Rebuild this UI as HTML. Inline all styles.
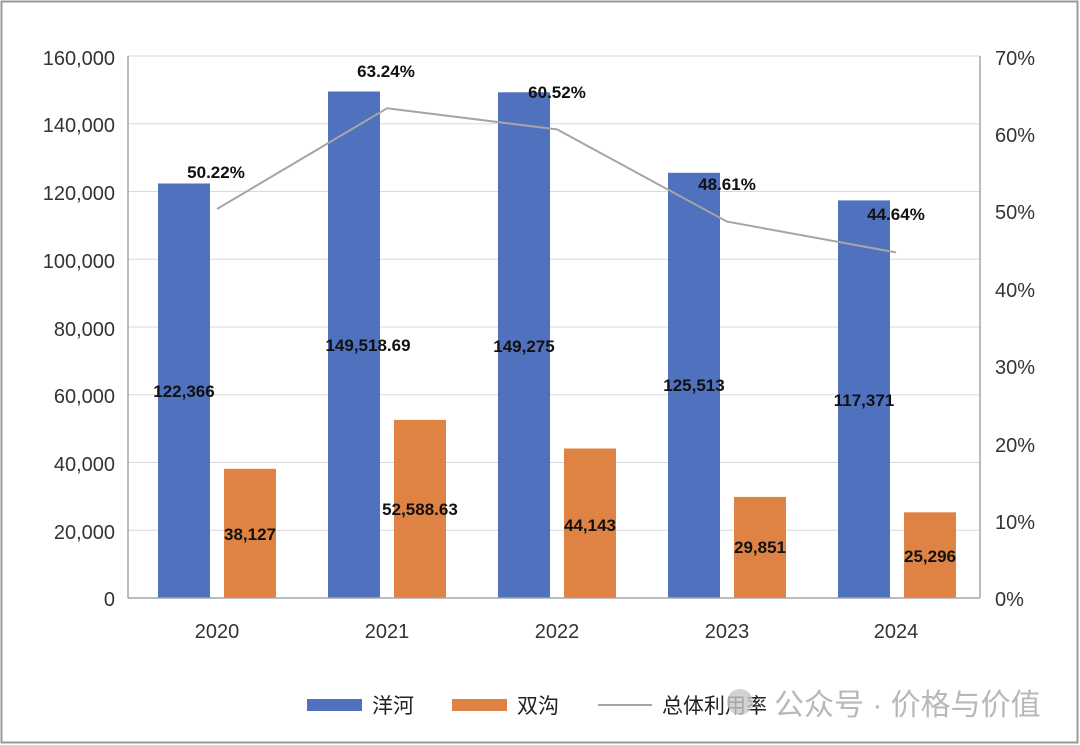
<!DOCTYPE html>
<html><head><meta charset="utf-8"><style>
html,body{margin:0;padding:0;background:#fff}
svg{display:block;font-family:"Liberation Sans","Noto Sans CJK SC",sans-serif}
</style></head><body>
<svg width="1080" height="745" viewBox="0 0 1080 745">
<rect x="1.5" y="1.5" width="1076" height="741" fill="#fff" stroke="#9a9a9a" stroke-width="2"/>
<g stroke="#d9d9d9" stroke-width="1">
<line x1="128" x2="980" y1="56" y2="56"/><line x1="128" x2="980" y1="123.75" y2="123.75"/>
<line x1="128" x2="980" y1="191.5" y2="191.5"/><line x1="128" x2="980" y1="259.25" y2="259.25"/>
<line x1="128" x2="980" y1="327" y2="327"/><line x1="128" x2="980" y1="394.75" y2="394.75"/>
<line x1="128" x2="980" y1="462.5" y2="462.5"/><line x1="128" x2="980" y1="530.25" y2="530.25"/>
</g>
<g fill="#4f71be">
<rect x="158" y="183.5" width="52" height="414.5"/>
<rect x="328" y="91.5" width="52" height="506.5"/>
<rect x="498" y="92.3" width="52" height="505.7"/>
<rect x="668" y="172.8" width="52" height="425.2"/>
<rect x="838" y="200.4" width="52" height="397.6"/>
</g>
<g fill="#de8344">
<rect x="224" y="468.8" width="52" height="129.2"/>
<rect x="394" y="419.9" width="52" height="178.1"/>
<rect x="564" y="448.5" width="52" height="149.5"/>
<rect x="734" y="496.9" width="52" height="101.1"/>
<rect x="904" y="512.3" width="52" height="85.7"/>
</g>
<g stroke="#a6a6a6" stroke-width="1.5">
<line x1="128" x2="128" y1="56" y2="598"/><line x1="980" x2="980" y1="56" y2="598"/>
<line x1="128" x2="980" y1="598" y2="598"/>
</g>
<polyline points="217,209 387,108.3 557,129.4 727,221.6 896,252.4" fill="none" stroke="#a5a5a5" stroke-width="2"/>
<g font-size="20" fill="#333" text-anchor="end">
<text x="115" y="65">160,000</text><text x="115" y="132">140,000</text><text x="115" y="200">120,000</text>
<text x="115" y="268">100,000</text><text x="115" y="336">80,000</text><text x="115" y="403">60,000</text>
<text x="115" y="471">40,000</text><text x="115" y="539">20,000</text><text x="115" y="606">0</text>
</g>
<g font-size="20" fill="#333" text-anchor="start">
<text x="995" y="65">70%</text><text x="995" y="142">60%</text><text x="995" y="219">50%</text>
<text x="995" y="297">40%</text><text x="995" y="374">30%</text><text x="995" y="452">20%</text>
<text x="995" y="529">10%</text><text x="995" y="606">0%</text>
</g>
<g font-size="20" fill="#333" text-anchor="middle">
<text x="217" y="638">2020</text><text x="387" y="638">2021</text><text x="557" y="638">2022</text>
<text x="727" y="638">2023</text><text x="896" y="638">2024</text>
</g>
<g font-size="17" font-weight="bold" fill="#111" text-anchor="middle">
<text x="184" y="397">122,366</text><text x="368" y="351">149,518.69</text><text x="524" y="352">149,275</text>
<text x="694" y="391">125,513</text><text x="864" y="406">117,371</text>
<text x="250" y="540">38,127</text><text x="420" y="515">52,588.63</text><text x="590" y="531">44,143</text>
<text x="760" y="553">29,851</text><text x="930" y="562">25,296</text>
<text x="216" y="178">50.22%</text><text x="386" y="77">63.24%</text><text x="557" y="98">60.52%</text>
<text x="727" y="190">48.61%</text><text x="896" y="220">44.64%</text>
</g>
<rect x="307" y="699" width="55" height="12" fill="#4f71be"/>
<rect x="452" y="699" width="55" height="12" fill="#de8344"/>
<line x1="598" x2="652" y1="705" y2="705" stroke="#a5a5a5" stroke-width="2"/>
<g font-size="21" fill="#222">
<text x="372" y="713">洋河</text><text x="517" y="713">双沟</text><text x="662" y="713">总体利用率</text>
</g>
<circle cx="740" cy="702" r="13" fill="#c8c8c8" opacity="0.8"/>
<text x="774" y="715" font-size="30" fill="#b8b8b8">公众号 · 价格与价值</text>
</svg>
</body></html>
